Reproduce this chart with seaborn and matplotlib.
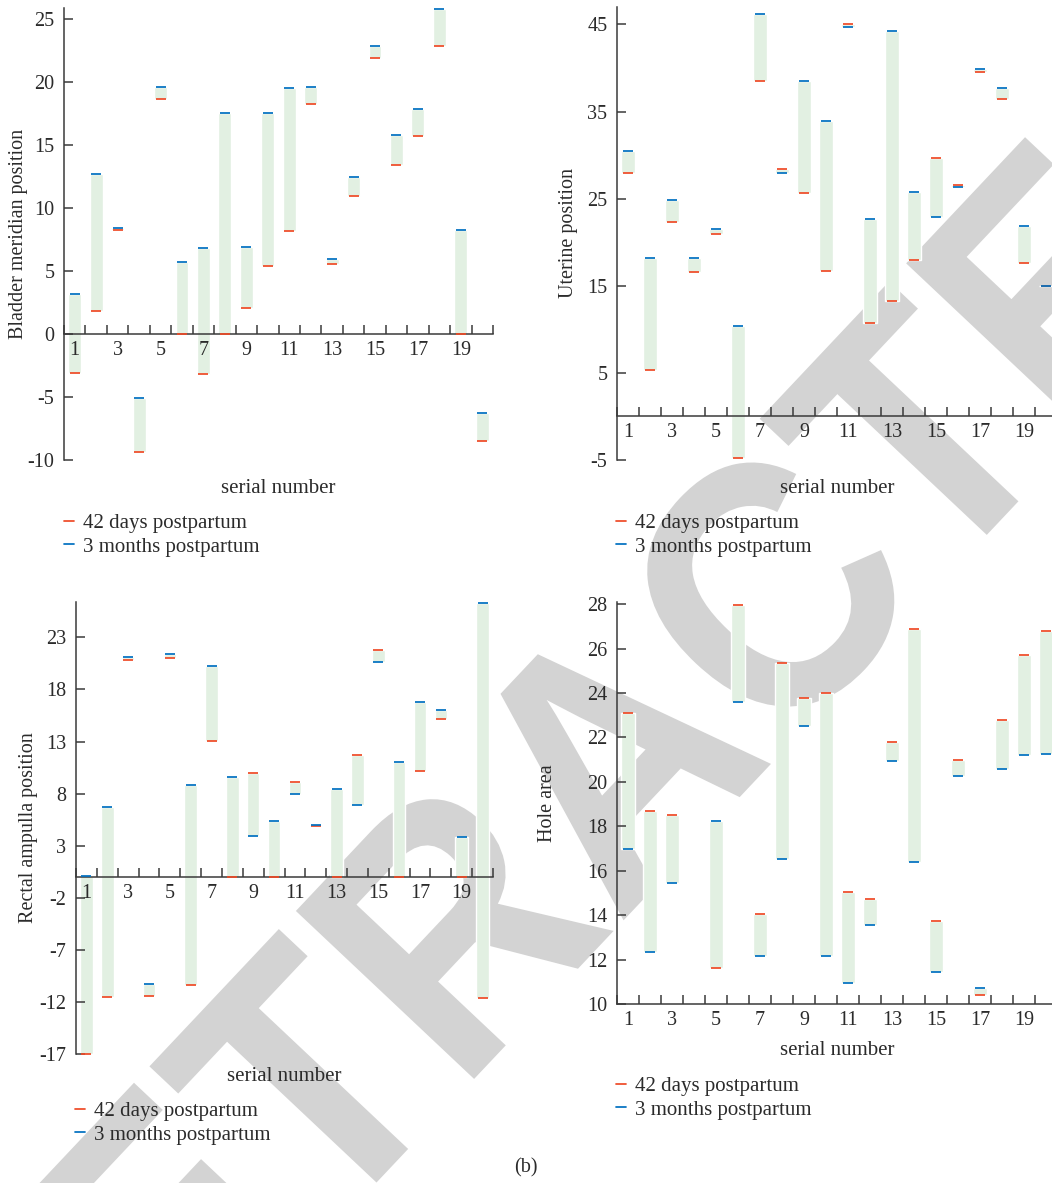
import numpy as np
import pandas as pd
import seaborn as sns
import matplotlib.pyplot as plt
from matplotlib.lines import Line2D
from matplotlib.textpath import TextPath
from matplotlib.patches import PathPatch
from matplotlib.font_manager import FontProperties
from matplotlib.transforms import Affine2D, IdentityTransform

sns.set_theme(style="white")
plt.rcParams['font.family'] = ['Liberation Serif', 'DejaVu Serif']
plt.rcParams['axes.unicode_minus'] = False

serial = list(range(1, 21))
tick_labels = [str(n) for n in range(1, 21, 2)]
legend_labels = ["42 days postpartum", "3 months postpartum"]

# bladder meridian position
bladder_42d = [-3.1, 1.8, 8.3, -9.4, 18.7, 0.0, -3.15, 0.0, 2.1, 5.4,
               8.15, 18.3, 5.6, 11.0, 21.9, 13.4, 15.7, 22.9, 0.0, -8.5]
bladder_3m = [3.2, 12.75, 8.4, -5.1, 19.6, 5.75, 6.8, 17.6, 6.95, 17.6,
              19.55, 19.65, 6.0, 12.5, 22.9, 15.8, 17.85, 25.85, 8.3, -6.25]

# uterine position
uterine_42d = [28.0, 5.35, 22.3, 16.6, 20.9, -4.8, 38.45, 28.45, 25.7, 16.75,
               45.0, 10.7, 13.3, 18.0, 29.7, 26.55, 39.5, 36.4, 17.65, 15.0]
uterine_3m = [30.5, 18.2, 24.9, 18.2, 21.5, 10.4, 46.2, 27.9, 38.5, 33.9,
              44.65, 22.7, 44.2, 25.8, 22.95, 26.3, 39.85, 37.75, 21.9, 15.0]

# rectal ampulla position
rectal_42d = [-17.0, -11.5, 20.8, -11.4, 21.0, -10.35, 13.05, 0.0, 10.0, 0.0,
              9.1, 4.9, 0.0, 11.75, 21.75, 0.0, 10.2, 15.15, 0.0, -11.6]
rectal_3m = [0.05, 6.75, 21.1, -10.3, 21.4, 8.85, 20.25, 9.55, 3.95, 5.35,
             8.0, 5.0, 8.4, 6.95, 20.6, 11.05, 16.8, 16.05, 3.8, 26.35]

# hole area (no value for serial 4)
hole_42d = [23.1, 18.7, 18.5, np.nan, 11.6, 27.95, 14.05, 25.35, 23.8, 24.0,
            15.05, 14.75, 21.8, 26.9, 13.75, 21.0, 10.4, 22.8, 25.7, 26.8]
hole_3m = [17.0, 12.35, 15.45, np.nan, 18.25, 23.6, 12.15, 16.55, 22.5, 12.15,
           10.95, 13.55, 20.95, 16.4, 11.45, 20.25, 10.7, 20.6, 21.2, 21.25]

RED = "#ee4a26"
BLUE = "#0070c0"
GREEN = "#e2f0e2"
DARK = "#2b2b2b"
W, H = 1052, 1183

fig = plt.figure(figsize=(W / 100, H / 100), dpi=100)
fig.patch.set_facecolor("white")

# watermark, slightly condensed, behind everything
wm = TextPath((0, 0), "RETRACTED", size=356,
              prop=FontProperties(family="Liberation Sans", weight="bold"))
ext = wm.get_extents()
wm_tf = (Affine2D().translate(-(ext.x0 + ext.x1) / 2, -(ext.y0 + ext.y1) / 2)
         .scale(0.9, 1.0).rotate_deg(46.7).translate(611, H - 755))
fig.add_artist(PathPatch(wm_tf.transform_path(wm), facecolor="#d3d3d3", edgecolor="none",
                         transform=IdentityTransform(), zorder=-5))


def px_axes(left, top, right, bottom):
    return fig.add_axes([left / W, 1 - bottom / H, (right - left) / W, (bottom - top) / H])


panels = [
    dict(box=(64, 8, 493, 460), lo=bladder_42d, hi=bladder_3m, ylim=(-10, 25.9),
         yticks=range(-10, 26, 5), ylabel="Bladder meridian position", zero=True,
         ylab_x=-0.105, xlab_y=-0.062, leg=(64, 535)),
    dict(box=(617, 7, 1057, 460), lo=uterine_42d, hi=uterine_3m, ylim=(-5, 47.0),
         yticks=range(-5, 46, 10), ylabel="Uterine position", zero=True,
         ylab_x=-0.111, xlab_y=-0.062, leg=(616, 535)),
    dict(box=(76, 602, 493, 1054), lo=rectal_42d, hi=rectal_3m, ylim=(-17, 26.4),
         yticks=range(-17, 24, 5), ylabel="Rectal ampulla position", zero=True,
         ylab_x=-0.115, xlab_y=-0.05, leg=(75, 1123)),
    dict(box=(617, 602, 1057, 1004), lo=hole_42d, hi=hole_3m, ylim=(10, 28.1),
         yticks=range(10, 29, 2), ylabel="Hole area", zero=False,
         ylab_x=-0.159, xlab_y=-0.116, leg=(616, 1098)),
]

for p in panels:
    ax = px_axes(*p["box"])
    ax.patch.set_alpha(0)
    ax.set_axisbelow(False)
    df = pd.DataFrame({"x": np.arange(len(serial)), "lo": p["lo"], "hi": p["hi"]})
    bottom = df[["lo", "hi"]].min(axis=1)
    top = df[["lo", "hi"]].max(axis=1)
    ax.bar(df["x"], top - bottom, bottom=bottom, width=0.6, color=GREEN, zorder=1)
    sns.scatterplot(data=df, x="x", y="lo", color=RED, marker="_", s=52,
                    linewidth=1.25, ax=ax, zorder=3, clip_on=False)
    sns.scatterplot(data=df, x="x", y="hi", color=BLUE, marker="_", s=52,
                    linewidth=1.25, ax=ax, zorder=4, clip_on=False)

    ax.set_xlim(-0.5, len(serial) - 0.5)
    ax.set_ylim(*p["ylim"])
    for s in ["top", "right"]:
        ax.spines[s].set_visible(False)
    for s in ["left", "bottom"]:
        ax.spines[s].set_color("#3a3a3a")
        ax.spines[s].set_linewidth(1.1)
    if p["zero"]:
        ax.spines["bottom"].set_position(("data", 0))

    ax.set_xticks(np.arange(-0.5, len(serial), 1.0))
    ax.set_xticklabels([])
    ax.set_xticks(np.arange(0, len(serial), 2), tick_labels, minor=True)
    ax.tick_params(axis="x", which="major", direction="in", length=6.5, width=1.1,
                   color="#3a3a3a", bottom=True)
    ax.tick_params(axis="x", which="minor", length=0, pad=5, labelsize=14.5,
                   labelcolor=DARK)
    ax.set_yticks(list(p["yticks"]))
    ax.tick_params(axis="y", direction="in", length=6.5, width=1.1, color="#3a3a3a",
                   left=True, pad=7, labelsize=14.5, labelcolor=DARK)

    ax.set_xlabel("serial number", fontsize=15, color=DARK)
    ax.set_ylabel(p["ylabel"], fontsize=14.5, color=DARK)
    ax.xaxis.set_label_coords(0.5, p["xlab_y"])
    ax.xaxis.label.set_va("center")
    ax.yaxis.set_label_coords(p["ylab_x"], 0.5)
    ax.yaxis.label.set_va("center")

    handles = [Line2D([], [], color=RED, lw=1.25), Line2D([], [], color=BLUE, lw=1.25)]
    lx, ly = p["leg"]
    ax.legend(handles, legend_labels, loc="center left", bbox_to_anchor=(lx / W, 1 - ly / H),
              bbox_transform=fig.transFigure, frameon=False, fontsize=15,
              handlelength=0.5, handletextpad=0.4, labelspacing=0.2,
              borderpad=0, borderaxespad=0, labelcolor=DARK)

fig.text(526 / W, 1 - 1168 / H, "(b)", ha="center", va="center", fontsize=14.5, color=DARK)

fig.savefig("out.png", dpi=100)
